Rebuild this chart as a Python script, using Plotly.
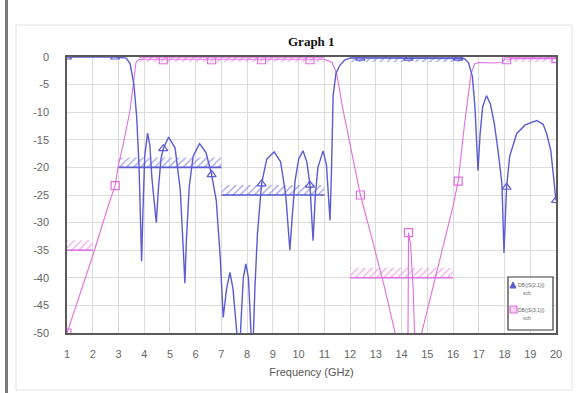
import plotly.graph_objects as go

# ---------------- data ----------------
# Blue trace: frequency (GHz) and response (dB)
blue_f = [1.0, 2.0, 2.87, 3.3, 3.45, 3.6, 3.71, 3.8, 3.87, 3.9, 3.95, 4.02, 4.13, 4.22, 4.3, 4.4,
          4.47, 4.55, 4.65, 4.74, 4.95, 5.2, 5.4, 5.52, 5.58, 5.64, 5.75, 5.9, 6.15, 6.4, 6.62,
          6.8, 6.95, 7.07, 7.2, 7.33, 7.45, 7.6, 7.68, 7.76, 7.85, 7.95, 8.05, 8.15, 8.2, 8.3,
          8.4, 8.56, 8.76, 9.05, 9.3, 9.5, 9.66, 9.75, 9.86, 10.0, 10.17, 10.32, 10.44, 10.56,
          10.65, 10.75, 10.95, 11.08, 11.16, 11.22, 11.28, 11.34, 11.45, 11.6, 11.8, 12.0, 12.4,
          14.27, 16.2, 16.45, 16.6, 16.75, 16.85, 16.92, 16.97, 17.05, 17.15, 17.3, 17.45, 17.6,
          17.75, 17.9, 17.98, 18.05, 18.08, 18.2, 18.47, 18.8, 19.25, 19.5, 19.64, 19.8, 19.92, 20.0]
blue_db = [0.0, 0.0, 0.0, -0.2, -1.2, -5.0, -11.0, -20.0, -30.0, -37.0, -28.0, -18.0, -13.8, -16.0, -22.0, -27.0,
           -30.0, -24.0, -18.5, -16.6, -14.5, -16.5, -24.0, -35.0, -41.0, -33.0, -23.5, -18.0, -15.7, -17.3, -21.3,
           -26.0, -36.0, -47.2, -42.0, -39.0, -42.0, -50.0, -56.0, -48.0, -40.0, -37.5, -40.0, -50.0, -56.0, -42.0,
           -32.0, -23.0, -18.5, -17.2, -19.0, -25.0, -35.0, -29.0, -22.5, -18.5, -17.0, -19.0, -23.2, -33.3,
           -25.0, -20.0, -17.0, -19.5, -25.0, -29.6, -20.0, -7.0, -3.0, -1.5, -0.5, -0.2, -0.2,
           -0.2, -0.2, -0.3, -1.0, -3.5, -9.0, -15.0, -20.6, -14.0, -9.0, -7.0, -8.5, -12.0,
           -17.0, -23.0, -35.5, -27.0, -23.6, -18.0, -13.9, -12.3, -11.5, -12.2, -13.9, -17.0, -22.0, -26.0]

# Pink trace
pink_f = [1.0, 1.5, 2.0, 2.6, 2.87, 3.0, 3.2, 3.45, 3.58, 3.68, 3.8, 4.0, 6.0, 8.0, 10.0, 11.0, 11.3,
          11.48, 11.7, 12.0, 12.4, 12.8, 13.3, 13.75, 14.0, 14.24, 14.27, 14.35, 14.45, 14.56, 14.7,
          14.78, 15.2, 15.6, 16.0, 16.2, 16.45, 16.7, 16.85, 17.0, 17.5, 17.9, 18.0, 18.5, 19.0, 20.0]
pink_db = [-50.0, -43.0, -36.0, -27.0, -23.3, -19.5, -15.5, -9.6, -4.5, -1.0, -0.4, -0.4, -0.4, -0.4, -0.4, -0.4, -1.0,
           -3.0, -9.0, -16.0, -25.0, -32.0, -41.0, -50.0, -58.0, -58.0, -31.8, -34.0, -42.0, -58.0, -58.0,
           -50.0, -42.0, -34.5, -27.0, -22.5, -12.0, -3.0, -1.2, -1.0, -1.1, -1.0, -0.4, -0.3, -0.3, -0.3]

# Marker positions
blue_mk_f = [1.0, 2.87, 4.74, 6.62, 8.56, 10.44, 12.4, 14.27, 16.2, 18.08, 20.0]
blue_mk_db = [0.0, 0.0, -16.6, -21.3, -23.0, -23.2, -0.2, -0.2, -0.2, -23.6, -26.0]
pink_mk_f = [1.0, 2.87, 4.74, 6.62, 8.56, 10.44, 12.4, 14.27, 16.2, 18.08, 20.0]
pink_mk_db = [-50.0, -23.3, -0.5, -0.5, -0.5, -0.5, -25.0, -31.8, -22.5, -0.5, -0.3]

# Specification masks (start GHz, stop GHz, limit dB, kind)
blue_mask_start = [3.0, 7.0, 12.0]
blue_mask_stop = [7.0, 11.0, 16.4]
blue_mask_level = [-20.0, -25.0, 0.0]
blue_mask_kind = ["max", "max", "min"]
pink_mask_start = [1.0, 3.8, 12.0, 18.0]
pink_mask_stop = [2.0, 11.0, 16.0, 20.0]
pink_mask_level = [-35.0, 0.0, -40.0, 0.0]
pink_mask_kind = ["max", "min", "max", "min"]

x_ticks = list(range(1, 21))
y_ticks = [0, -5, -10, -15, -20, -25, -30, -35, -40, -45, -50]

# ---------------- styling ----------------
BLUE = "#5b5bd4"
PINK = "#e06ee0"
HATCH_H = 1.8

fig = go.Figure()


def mask_traces(starts, stops, levels, kinds, color, hatch_h):
    px, py, lx, ly = [], [], [], []
    for s, e, lv, k in zip(starts, stops, levels, kinds):
        d = hatch_h if k == "max" else -hatch_h * 0.5
        px += [s, e, e, s, s, None]
        py += [lv, lv, lv + d, lv + d, lv, None]
        lx += [s, e, None]
        ly += [lv, lv, None]
    fig.add_trace(go.Scatter(x=px, y=py, mode="lines", line=dict(width=0, color=color),
                             fill="toself", fillcolor="rgba(255,255,255,0)",
                             fillpattern=dict(shape="/", fgcolor=color, bgcolor="rgba(255,255,255,0)",
                                              size=5, solidity=0.3),
                             hoverinfo="skip", showlegend=False))
    fig.add_trace(go.Scatter(x=lx, y=ly, mode="lines", line=dict(width=1.6, color=color),
                             hoverinfo="skip", showlegend=False))


mask_traces(blue_mask_start, blue_mask_stop, blue_mask_level, blue_mask_kind, BLUE, HATCH_H)
mask_traces(pink_mask_start, pink_mask_stop, pink_mask_level, pink_mask_kind, PINK, HATCH_H)

fig.add_trace(go.Scatter(x=pink_f, y=pink_db, mode="lines", line=dict(color=PINK, width=1.1),
                         showlegend=False))
fig.add_trace(go.Scatter(x=blue_f, y=blue_db, mode="lines", line=dict(color=BLUE, width=1.4),
                         showlegend=False))
fig.add_trace(go.Scatter(x=pink_mk_f, y=pink_mk_db, mode="markers",
                         marker=dict(symbol="square-open", size=8, color=PINK, line=dict(width=1.2)),
                         showlegend=False))
fig.add_trace(go.Scatter(x=blue_mk_f, y=blue_mk_db, mode="markers",
                         marker=dict(symbol="triangle-up-open", size=8, color=BLUE, line=dict(width=1.2)),
                         showlegend=False))

# geometry helpers (paper coords)
L, R, T, B = 67, 25, 57, 60
W, H = 581 - L - R, 393 - T - B


def pxx(p):
    return (p - L) / W


def pxy(p):
    return (393 - B - p) / H


shapes = [
    # outer light panel
    dict(type="rect", xref="paper", yref="paper", x0=pxx(16), x1=pxx(572), y0=pxy(390), y1=pxy(25),
         line=dict(color="#e2e2e2", width=1), fillcolor="rgba(0,0,0,0)", layer="below"),
    # dark bar at left edge
    dict(type="line", xref="paper", yref="paper", x0=pxx(6.5), x1=pxx(6.5), y0=pxy(393), y1=pxy(0),
         line=dict(color="#7a7a7a", width=3)),
    # legend box
    dict(type="rect", xref="paper", yref="paper", x0=pxx(508), x1=pxx(553), y0=pxy(330), y1=pxy(277),
         line=dict(color="#3a3a3a", width=1.2), fillcolor="white"),
    # legend triangle
    dict(type="path", xref="paper", yref="paper",
         path=f"M {pxx(510)} {pxy(288)} L {pxx(516)} {pxy(288)} L {pxx(513)} {pxy(282)} Z",
         line=dict(color=BLUE, width=1), fillcolor=BLUE),
    # legend square
    dict(type="rect", xref="paper", yref="paper", x0=pxx(510), x1=pxx(517), y0=pxy(313), y1=pxy(306),
         line=dict(color=PINK, width=1.2), fillcolor="rgba(240,180,240,0.6)"),
]


def ann(text, x, y, size, color, family="Liberation Sans"):
    return dict(text=text, xref="paper", yref="paper", x=pxx(x), y=pxy(y),
                xanchor="center", yanchor="middle", showarrow=False,
                font=dict(family=family, size=size, color=color))


annotations = [
    ann("<b>Graph 1</b>", 311, 42, 13, "#111", "Liberation Serif"),
    ann("DB(|S(2,1)|)", 531, 285, 5, "#666"),
    ann("sch", 527, 293, 5, "#666"),
    ann("DB(|S(3,1)|)", 531, 310, 5, "#666"),
    ann("sch", 527, 318, 5, "#666"),
]

fig.update_layout(
    width=581, height=393,
    margin=dict(l=L, r=R, t=T, b=B),
    paper_bgcolor="white", plot_bgcolor="white",
    showlegend=False,
    shapes=shapes, annotations=annotations,
    font=dict(family="Liberation Sans", size=11, color="#666"),
)
fig.update_xaxes(range=[1, 20], tickvals=x_ticks, ticktext=[str(v) for v in x_ticks],
                 showgrid=True, gridcolor="#dcdcdc", gridwidth=1, zeroline=False,
                 showline=True, linecolor="#5a5a5a", linewidth=1.5, mirror=True,
                 ticks="", ticklabelstandoff=10, tickfont=dict(size=11, color="#666"),
                 title=dict(text="Frequency (GHz)", standoff=9, font=dict(size=11, color="#555")))
fig.update_yaxes(range=[-50, 0], tickvals=y_ticks, ticktext=[str(v) for v in y_ticks],
                 showgrid=True, gridcolor="#dcdcdc", gridwidth=1, zeroline=False,
                 showline=True, linecolor="#5a5a5a", linewidth=1.5, mirror=True,
                 ticks="", ticklabelstandoff=14, tickfont=dict(size=11, color="#666"))

fig.write_html("out.html", config={"displayModeBar": False},
               post_script="document.body.style.margin='0px';document.body.style.overflow='hidden';")
